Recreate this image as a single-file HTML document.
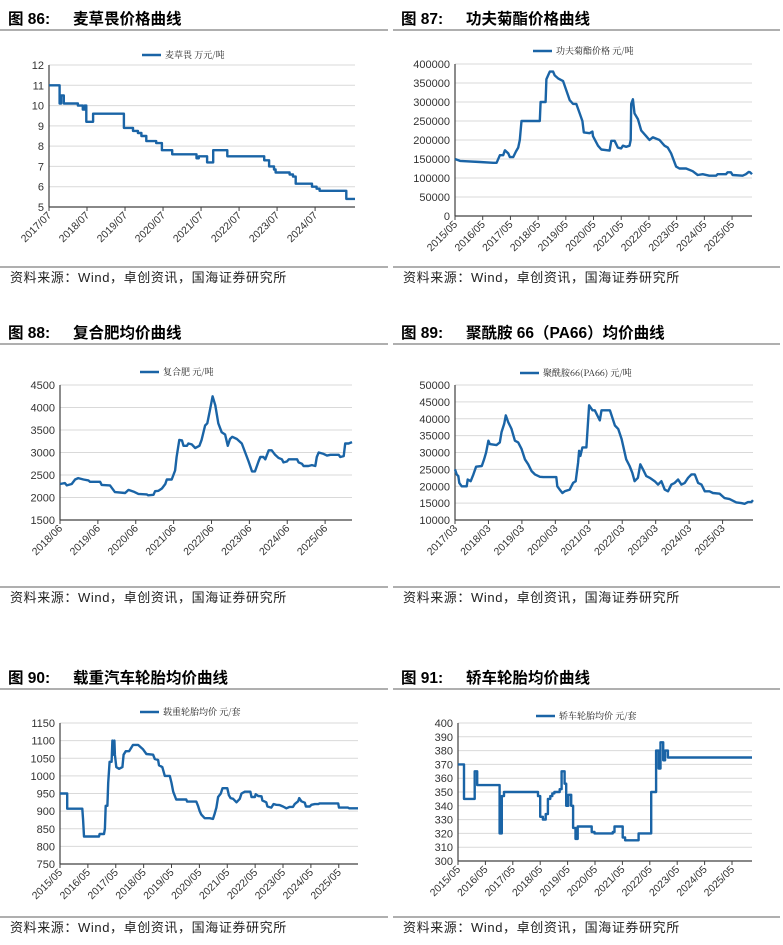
<!DOCTYPE html>
<html><head><meta charset="utf-8">
<style>
html,body{margin:0;padding:0;background:#fff;}
svg{display:block;font-family:"Liberation Sans","Noto Sans CJK SC",sans-serif;}
.t{font-weight:bold;font-size:15.5px;fill:#000;}
.src{font-size:13px;fill:#222;letter-spacing:0.6px;}
.yl{font-size:11px;fill:#333;}
.xl{font-size:10.5px;fill:#333;}
.lg{font-size:9px;fill:#222;font-family:"Noto Serif CJK SC","Liberation Serif",serif;}
</style></head>
<body>
<svg id="s" width="783" height="945" viewBox="0 0 783 945"></svg>
<script>
// ---- Chart 86: 麦草畏 (step) ----
const c86Dates=[2017.5,2017.78,2017.82,2017.89,2018.26,2018.39,2018.44,2018.48,2018.66,2019.47,2019.71,2019.84,2019.93,2020.06,2020.32,2020.47,2020.74,2021.38,2021.44,2021.66,2021.82,2022.19,2023.16,2023.29,2023.42,2023.46,2023.83,2023.92,2023.99,2024.42,2024.54,2024.62,2025.32,2025.54];
const c86Values=[11,10.1,10.5,10.1,10.0,9.8,10.0,9.2,9.6,8.9,8.75,8.65,8.5,8.25,8.15,7.8,7.6,7.4,7.5,7.2,7.8,7.5,7.3,7.0,6.85,6.7,6.6,6.5,6.15,6.0,5.9,5.8,5.4,5.4];
const c86XTicks=["2017/07","2018/07","2019/07","2020/07","2021/07","2022/07","2023/07","2024/07"];
const c86YTicks=[5,6,7,8,9,10,11,12];
// ---- Chart 87: 功夫菊酯 ----
const c87Dates=[2015.33,2015.51,2016.23,2016.71,2016.83,2016.95,2017.07,2017.13,2017.25,2017.31,2017.43,2017.53,2017.61,2017.67,2017.73,2018.39,2018.42,2018.60,2018.63,2018.69,2018.75,2018.87,2018.93,2019.05,2019.23,2019.35,2019.47,2019.59,2019.71,2019.83,2019.93,2019.98,2020.19,2020.29,2020.31,2020.49,2020.61,2020.91,2020.97,2021.09,2021.21,2021.33,2021.39,2021.51,2021.63,2021.67,2021.69,2021.75,2021.81,2021.93,2022.05,2022.23,2022.35,2022.47,2022.71,2022.89,2023.01,2023.13,2023.31,2023.43,2023.67,2023.91,2024.09,2024.27,2024.51,2024.75,2024.81,2025.11,2025.17,2025.29,2025.35,2025.71,2025.83,2025.93,2025.98,2026.05];
const c87Values=[150000,145000,142000,140000,140000,160000,160000,173000,165000,155000,155000,170000,180000,200000,250000,250000,300000,300000,360000,370000,380000,380000,370000,362000,355000,330000,305000,295000,295000,270000,250000,220000,218000,222000,210000,185000,175000,172000,198000,198000,180000,178000,185000,182000,185000,200000,295000,307000,270000,255000,225000,210000,200000,207000,200000,185000,180000,165000,130000,125000,125000,118000,108000,110000,106000,106000,110000,110000,115000,115000,108000,106000,110000,116000,115000,110000];
const c87XTicks=["2015/05","2016/05","2017/05","2018/05","2019/05","2020/05","2021/05","2022/05","2023/05","2024/05","2025/05"];
const c87YTicks=[0,50000,100000,150000,200000,250000,300000,350000,400000];
// ---- Chart 88: 复合肥 ----
const c88Dates=[2018.42,2018.55,2018.60,2018.73,2018.82,2018.90,2019.04,2019.17,2019.21,2019.48,2019.52,2019.74,2019.87,2020.14,2020.23,2020.36,2020.49,2020.71,2020.75,2020.89,2020.93,2021.02,2021.11,2021.20,2021.24,2021.37,2021.46,2021.50,2021.57,2021.64,2021.68,2021.77,2021.81,2021.90,2021.99,2022.10,2022.16,2022.25,2022.31,2022.38,2022.45,2022.52,2022.60,2022.69,2022.78,2022.85,2022.91,2022.97,2023.09,2023.22,2023.31,2023.40,2023.49,2023.57,2023.66,2023.71,2023.79,2023.84,2023.93,2024.01,2024.10,2024.19,2024.28,2024.32,2024.41,2024.46,2024.68,2024.72,2024.81,2024.85,2024.98,2025.07,2025.16,2025.20,2025.25,2025.38,2025.47,2025.56,2025.78,2025.82,2025.91,2025.95,2026.04,2026.13];
const c88Values=[2300,2320,2270,2300,2400,2430,2400,2380,2350,2350,2280,2270,2120,2100,2170,2130,2080,2070,2050,2060,2140,2150,2200,2300,2400,2400,2600,2900,3280,3270,3150,3150,3200,3180,3100,3150,3280,3600,3650,3950,4250,4050,3650,3450,3400,3150,3300,3350,3300,3200,3000,2800,2580,2580,2800,2900,2900,2850,3050,3050,2950,2880,2850,2780,2800,2850,2850,2780,2750,2700,2700,2720,2700,2900,3000,2970,2930,2950,2950,2900,2920,3200,3200,3230];
const c88XTicks=["2018/06","2019/06","2020/06","2021/06","2022/06","2023/06","2024/06","2025/06"];
const c88YTicks=[1500,2000,2500,3000,3500,4000,4500];
// ---- Chart 89: PA66 ----
const c89Dates=[2017.17,2017.22,2017.27,2017.30,2017.37,2017.52,2017.55,2017.64,2017.72,2017.80,2017.97,2018.04,2018.10,2018.17,2018.21,2018.41,2018.51,2018.56,2018.64,2018.69,2018.76,2018.86,2018.96,2019.06,2019.16,2019.26,2019.36,2019.46,2019.56,2019.71,2019.81,2020.20,2020.23,2020.30,2020.38,2020.45,2020.60,2020.70,2020.78,2020.85,2020.88,2020.92,2020.98,2021.10,2021.18,2021.28,2021.35,2021.50,2021.55,2021.80,2021.95,2022.05,2022.15,2022.29,2022.39,2022.47,2022.54,2022.64,2022.71,2022.79,2022.89,2022.99,2023.14,2023.24,2023.34,2023.44,2023.54,2023.64,2023.74,2023.84,2023.94,2024.04,2024.14,2024.24,2024.34,2024.44,2024.54,2024.64,2024.78,2024.88,2025.08,2025.23,2025.38,2025.58,2025.73,2025.83,2025.93,2026.03,2026.08];
const c89Values=[25000,23500,23000,21000,20000,20000,22000,21500,23500,25800,26000,28000,30000,33500,32500,32200,33000,36000,38500,41000,39000,37000,33500,33000,31000,28000,26500,24500,23500,22800,22700,22700,20000,19000,18000,18500,19000,21000,21500,27000,30500,29000,31500,31500,44000,42500,42500,39500,42500,42500,38000,37000,34000,28000,26000,24000,21500,22500,26500,25000,23000,22500,21500,20500,21500,19000,18500,20500,21000,22000,20500,21000,22500,23500,23500,21000,20500,18500,18500,18000,17800,16500,16200,15200,15000,14800,15300,15300,15900];
const c89XTicks=["2017/03","2018/03","2019/03","2020/03","2021/03","2022/03","2023/03","2024/03","2025/03"];
const c89YTicks=[10000,15000,20000,25000,30000,35000,40000,45000,50000];
// ---- Chart 90: 载重轮胎 ----
const c90Dates=[2015.33,2015.59,2015.59,2016.13,2016.16,2016.19,2016.73,2016.75,2016.91,2016.94,2016.97,2017.03,2017.06,2017.11,2017.18,2017.21,2017.24,2017.28,2017.30,2017.35,2017.45,2017.57,2017.61,2017.69,2017.81,2017.95,2018.13,2018.31,2018.43,2018.67,2018.73,2018.85,2018.88,2019.00,2019.09,2019.27,2019.33,2019.39,2019.44,2019.50,2019.86,2019.89,2020.22,2020.28,2020.34,2020.40,2020.52,2020.70,2020.82,2020.88,2020.94,2021.00,2021.10,2021.16,2021.33,2021.39,2021.45,2021.54,2021.66,2021.78,2021.84,2021.96,2022.16,2022.20,2022.32,2022.35,2022.44,2022.56,2022.59,2022.73,2022.77,2022.91,2022.99,2023.09,2023.21,2023.33,2023.45,2023.57,2023.69,2023.75,2023.87,2023.91,2023.99,2024.11,2024.15,2024.29,2024.35,2024.47,2024.59,2024.65,2025.31,2025.34,2025.66,2025.70,2026.02];
const c90Values=[950,950,907,907,875,828,828,835,835,850,915,915,980,1040,1040,1100,1060,1100,1060,1025,1020,1025,1060,1070,1070,1088,1088,1075,1062,1060,1048,1045,1030,1025,1000,1000,980,955,945,933,933,927,927,915,900,890,880,880,878,893,910,940,950,965,965,945,937,935,925,935,950,955,955,940,940,948,943,942,930,925,913,910,920,918,917,913,908,912,912,920,928,937,928,924,913,913,918,920,920,922,922,910,910,908,908];
const c90XTicks=["2015/05","2016/05","2017/05","2018/05","2019/05","2020/05","2021/05","2022/05","2023/05","2024/05","2025/05"];
const c90YTicks=[750,800,850,900,950,1000,1050,1100,1150];
// ---- Chart 91: 轿车轮胎 (step) ----
const c91Dates=[2015.33,2015.55,2015.94,2016.03,2016.85,2016.93,2017.01,2018.25,2018.33,2018.43,2018.53,2018.61,2018.70,2018.77,2018.85,2019.04,2019.11,2019.22,2019.28,2019.36,2019.46,2019.53,2019.62,2019.70,2020.21,2020.31,2020.98,2021.04,2021.34,2021.43,2021.92,2022.38,2022.56,2022.65,2022.72,2022.82,2022.89,2022.99,2026.06];
const c91Values=[370,345,365,355,320,347,350,347,332,330,334,345,347,349,350,352,365,356,340,348,340,324,316,325,321,320,321,325,317,315,320,350,380,367,386,373,380,375,375];
const c91XTicks=["2015/05","2016/05","2017/05","2018/05","2019/05","2020/05","2021/05","2022/05","2023/05","2024/05","2025/05"];
const c91YTicks=[300,310,320,330,340,350,360,370,380,390,400];

const NS="http://www.w3.org/2000/svg";
const svg=document.getElementById('s');
function mk(tag,attrs,parent){const e=document.createElementNS(NS,tag);for(const k in attrs)e.setAttribute(k,attrs[k]);(parent||svg).appendChild(e);return e;}

function panel(p){
  const g=mk('g',{});
  
  
  const t=mk('text',{x:p.px+8,y:p.titleY,class:'t'},g);
  t.textContent=p.fig;
  
  
  const t2=mk('text',{x:p.px+73,y:p.titleY,class:'t'},g);
  t2.textContent=p.title;
  
  
  const r1=mk('line',{x1:p.px,x2:p.px+p.pw,y1:p.ruleY,y2:p.ruleY,stroke:'#7f7f7f','stroke-width':1.3},g);
  
  
  const r2=mk('line',{x1:p.px,x2:p.px+p.pw,y1:p.botY,y2:p.botY,stroke:'#7f7f7f','stroke-width':1.3},g);
  
  
  const s=mk('text',{x:p.px+10,y:p.srcY,class:'src'},g);
  s.textContent='资料来源：Wind，卓创资讯，国海证券研究所';
  
  
  const ll=mk('line',{x1:p.lgX,x2:p.lgX+19,y1:p.lgY,y2:p.lgY,stroke:'#1a64a6','stroke-width':2.5},g);
  
  
  const lt=mk('text',{x:p.lgX+23,y:p.lgY+3,class:'lg'},g);
  lt.textContent=p.legend;
  
  
  const X=d=>p.L+(d-p.x0)/(p.x1-p.x0)*(p.R-p.L);
  const Y=v=>p.B-(v-p.y0)/(p.y1-p.y0)*(p.B-p.T);
  p.yt.forEach(v=>{
    if(v!==p.y0){
      const gl=mk('line',{x1:p.L,x2:p.R,y1:Y(v),y2:Y(v),stroke:'#d9d9d9','stroke-width':1},g);
      
      
    }
    const tx=mk('text',{x:p.L-5,y:Y(v)+4,'text-anchor':'end',class:'yl'},g);
    tx.textContent=v;
    
    
  });
  const ya=mk('line',{x1:p.L,x2:p.L,y1:p.T,y2:p.B,stroke:'#404040','stroke-width':1.2},g);
  
  
  const xa=mk('line',{x1:p.L,x2:p.R,y1:p.B,y2:p.B,stroke:'#404040','stroke-width':1.2},g);
  
  
  p.xt.forEach((lab,i)=>{
    const x=X(p.x0+i);
    const tk=mk('line',{x1:x,x2:x,y1:p.B,y2:p.B+4,stroke:'#404040','stroke-width':1},g);
    
    
    const tx=mk('text',{x:x+3,y:p.B+9,'text-anchor':'end',class:'xl',transform:`rotate(-45 ${x+3} ${p.B+9})`},g);
    tx.textContent=lab;
    
    
  });
  let d='';
  for(let i=0;i<p.dates.length;i++){
    const x=X(p.dates[i]),y=Y(p.vals[i]);
    if(i===0)d+=`M${x.toFixed(1)},${y.toFixed(1)}`;
    else if(p.step){d+=`H${x.toFixed(1)}V${y.toFixed(1)}`;}
    else d+=`L${x.toFixed(1)},${y.toFixed(1)}`;
  }
  if(p.step) d+=`H${X(p.x1).toFixed(1)}`;
  const pl=mk('path',{d:d,fill:'none',stroke:'#1a64a6','stroke-width':2.4,'stroke-linejoin':'round'},g);
  
  
}

panel({id:'figure-86-dicamba',fig:'图 86:',title:'麦草畏价格曲线',px:0,pw:388,titleY:24,ruleY:30,botY:267,srcY:282,
  lgX:142,lgY:55,legend:'麦草畏  万元/吨',L:49,R:355,T:65,B:207,x0:2017.5,x1:2025.55,y0:5,y1:12,
  yt:c86YTicks,xt:c86XTicks,dates:c86Dates,vals:c86Values,step:true});
panel({id:'figure-87-cypermethrin',fig:'图 87:',title:'功夫菊酯价格曲线',px:393,pw:387,titleY:24,ruleY:30,botY:267,srcY:282,
  lgX:533,lgY:51,legend:'功夫菊酯价格  元/吨',L:455,R:752,T:64,B:216,x0:2015.33,x1:2026.05,y0:0,y1:400000,
  yt:c87YTicks,xt:c87XTicks,dates:c87Dates,vals:c87Values,step:false});
panel({id:'figure-88-compound-fertilizer',fig:'图 88:',title:'复合肥均价曲线',px:0,pw:388,titleY:338,ruleY:344,botY:587,srcY:602,
  lgX:140,lgY:372,legend:'复合肥    元/吨',L:60,R:352,T:385,B:520,x0:2018.42,x1:2026.13,y0:1500,y1:4500,
  yt:c88YTicks,xt:c88XTicks,dates:c88Dates,vals:c88Values,step:false});
panel({id:'figure-89-pa66',fig:'图 89:',title:'聚酰胺 66（PA66）均价曲线',px:393,pw:387,titleY:338,ruleY:344,botY:587,srcY:602,
  lgX:520,lgY:373,legend:'聚酰胺66(PA66)  元/吨',L:455,R:753,T:385,B:520,x0:2017.17,x1:2026.08,y0:10000,y1:50000,
  yt:c89YTicks,xt:c89XTicks,dates:c89Dates,vals:c89Values,step:false});
panel({id:'figure-90-truck-tire',fig:'图 90:',title:'载重汽车轮胎均价曲线',px:0,pw:388,titleY:683,ruleY:689,botY:917,srcY:932,
  lgX:140,lgY:712,legend:'载重轮胎均价  元/套',L:60,R:358,T:723,B:864,x0:2015.33,x1:2026.02,y0:750,y1:1150,
  yt:c90YTicks,xt:c90XTicks,dates:c90Dates,vals:c90Values,step:false});
panel({id:'figure-91-car-tire',fig:'图 91:',title:'轿车轮胎均价曲线',px:393,pw:387,titleY:683,ruleY:689,botY:917,srcY:932,
  lgX:536,lgY:716,legend:'轿车轮胎均价  元/套',L:458,R:752,T:723,B:861,x0:2015.33,x1:2026.06,y0:300,y1:400,
  yt:c91YTicks,xt:c91XTicks,dates:c91Dates,vals:c91Values,step:true});
</script>
</body></html>
